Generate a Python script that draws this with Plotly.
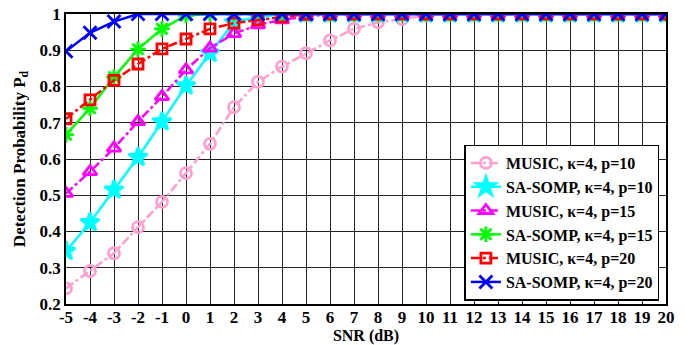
import plotly.graph_objects as go

snr = list(range(-5, 21))
snr_labels = [str(v) for v in snr]

music_p10 = [0.243, 0.291, 0.340, 0.412, 0.482, 0.561, 0.642, 0.743, 0.813, 0.855, 0.892, 0.927, 0.959, 0.977, 0.986, 0.996] + [1.0] * 10
somp_p10 = [0.346, 0.425, 0.515, 0.605, 0.703, 0.802, 0.892, 0.977, 0.992] + [1.0] * 17
music_p15 = [0.505, 0.565, 0.630, 0.703, 0.772, 0.846, 0.906, 0.946, 0.970, 0.984, 0.993] + [1.0] * 15
somp_p15 = [0.667, 0.740, 0.826, 0.903, 0.959, 0.996] + [1.0] * 20
music_p20 = [0.711, 0.763, 0.817, 0.862, 0.904, 0.931, 0.959, 0.975, 0.984, 0.992] + [1.0] * 16
somp_p20 = [0.897, 0.948, 0.979] + [1.0] * 23

series = [
    ("MUSIC, \u03ba=4, p=10", music_p10, "#ff9fcf", "dashdot", "circle-open", 11),
    ("SA-SOMP, \u03ba=4, p=10", somp_p10, "#00ffff", "solid", "star", 14),
    ("MUSIC, \u03ba=4, p=15", music_p15, "#ff00ff", "dashdot", "triangle-up-open", 12),
    ("SA-SOMP, \u03ba=4, p=15", somp_p15, "#00ff00", "solid", "asterisk-open", 13),
    ("MUSIC, \u03ba=4, p=20", music_p20, "#ff0000", "dashdot", "square-open", 10),
    ("SA-SOMP, \u03ba=4, p=20", somp_p20, "#0000ff", "solid", "x-thin-open", 13),
]

FAM = "Liberation Serif"

fig = go.Figure()
for name, y, color, dash, sym, size in series:
    fig.add_trace(go.Scatter(
        x=snr, y=y, name=name, mode="lines+markers",
        line=dict(color=color, width=2.5, dash=dash),
        marker=dict(symbol=sym, size=size, color=color, line=dict(color=color, width=2.8)),
    ))

fig.update_layout(
    width=699, height=345,
    margin=dict(l=66, r=33, t=14, b=41, autoexpand=False),
    paper_bgcolor="white", plot_bgcolor="white",
    font=dict(family=FAM, size=16, color="black", weight="bold"),
    showlegend=True,
    legend=dict(
        x=0.989, y=0.012, xanchor="right", yanchor="bottom",
        bgcolor="white", bordercolor="black", borderwidth=1.5,
        font=dict(family=FAM, size=16, color="black", weight="bold"),
        tracegroupgap=0, itemwidth=30,
    ),
)
fig.update_xaxes(
    range=[-5, 20], tickmode="array", tickvals=snr, ticktext=snr_labels,
    showgrid=True, gridcolor="#222222", gridwidth=1,
    zeroline=False, showline=True, linecolor="black", linewidth=1.5, mirror=True,
    ticks="", ticklabelstandoff=-3,
    tickfont=dict(family=FAM, size=17, color="black", weight="bold"),
    title=dict(text="SNR (dB)", font=dict(family=FAM, size=16, color="black", weight="bold"), standoff=2),
)
fig.update_yaxes(
    range=[0.2, 1.0], tickmode="linear", tick0=0.2, dtick=0.1,
    showgrid=True, gridcolor="#222222", gridwidth=1,
    zeroline=False, showline=True, linecolor="black", linewidth=1.5, mirror=True,
    ticks="",
    tickfont=dict(family=FAM, size=17, color="black", weight="bold"),
    title=dict(text="Detection Probability P<sub>d</sub>", font=dict(family=FAM, size=17, color="black", weight="bold"), standoff=10),
)

fig.write_html(
    "out.html",
    config={"displayModeBar": False},
    post_script="document.body.style.margin='0';document.body.style.overflow='hidden';",
)
